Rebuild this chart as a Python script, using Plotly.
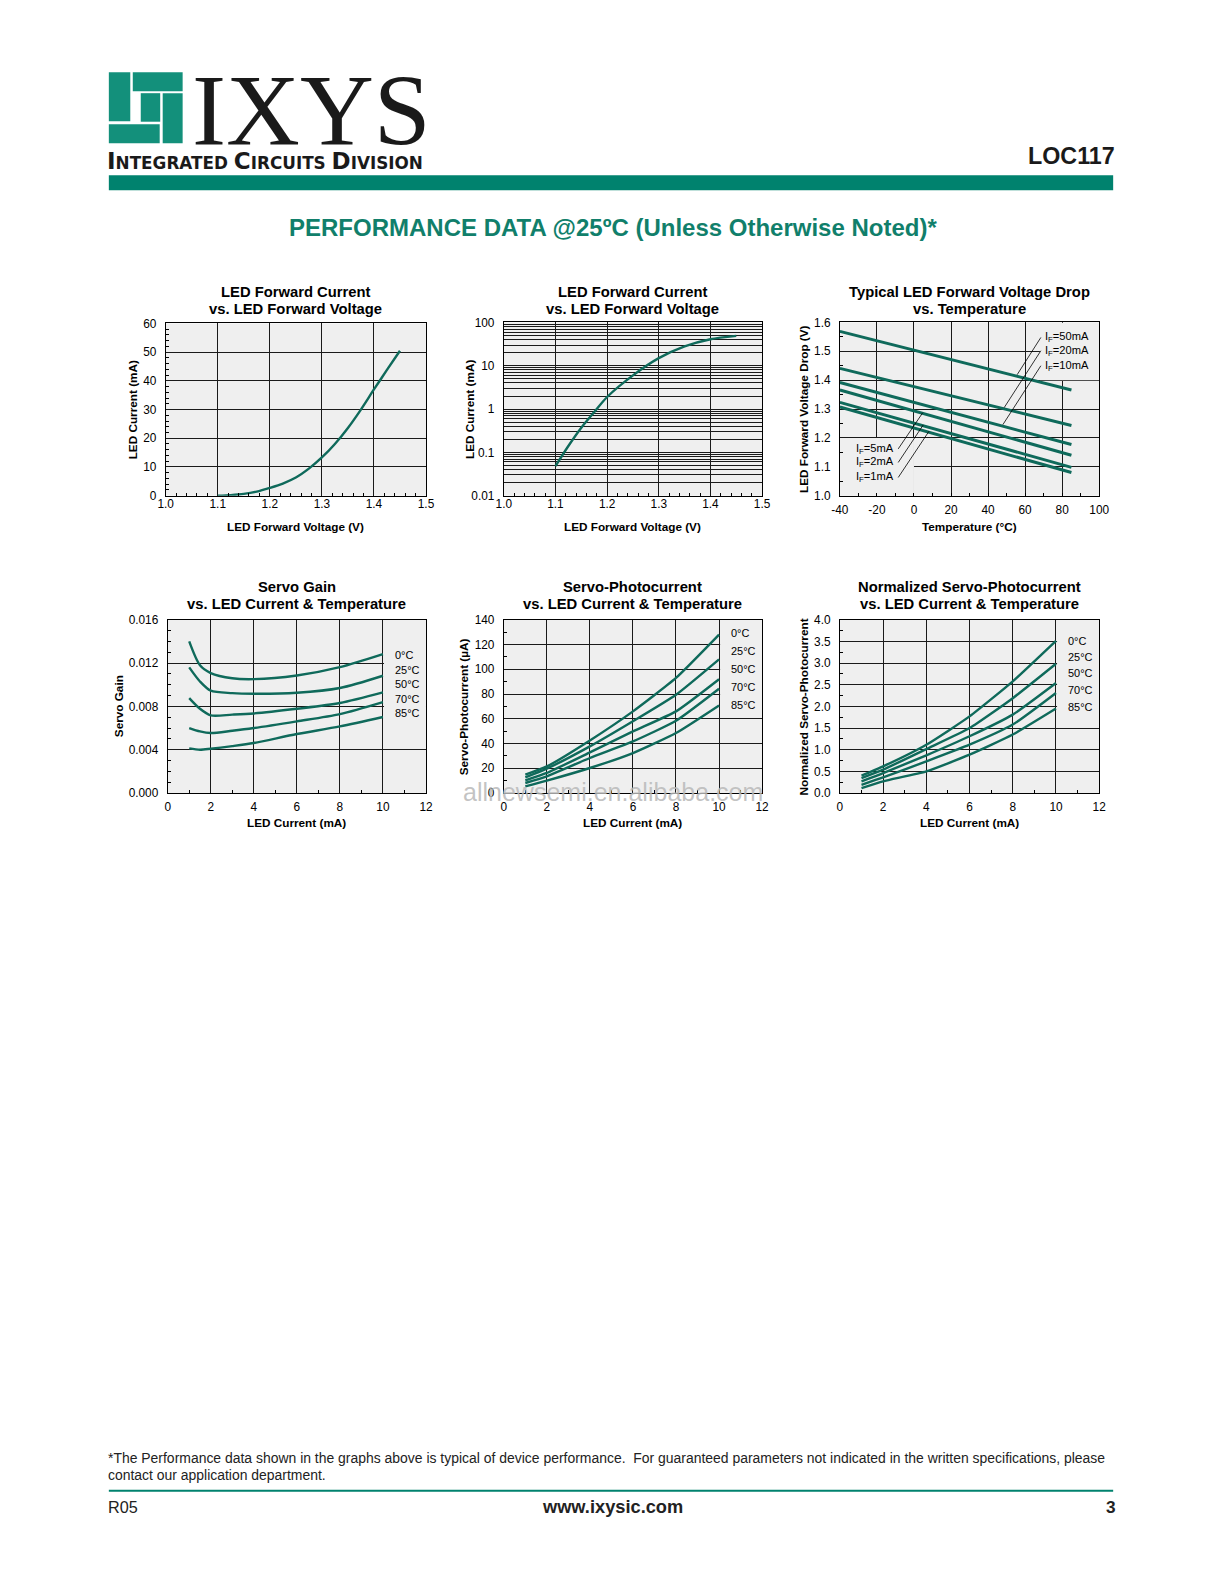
import plotly.graph_objects as go

# Figure size; the captured page maps figure pixels to page pixels as
# page = K * (fig + 8), so positions below are given in page pixels and converted.
W, H = 1224, 1584
OFF = 8
KX = 1224 / 1240
KY = 1584 / 1600

# ---------------- data ----------------
vf_lin = [1.100, 1.125, 1.150, 1.175, 1.200, 1.225, 1.250, 1.275, 1.300, 1.325, 1.350, 1.375, 1.400, 1.425, 1.450]
if_lin = [0.0, 0.2, 0.6, 1.4, 2.7, 4.2, 6.3, 9.4, 13.3, 18.0, 23.6, 30.0, 37.0, 43.8, 50.5]

vf_log = [1.10, 1.125, 1.15, 1.175, 1.20, 1.25, 1.30, 1.35, 1.40, 1.45]
if_log = [0.048, 0.14, 0.37, 0.85, 1.9, 6.0, 15.0, 28.0, 41.0, 49.0]

temp_c = [-40, 85]
temp_ticks = [-40, -20, 0, 20, 40, 60, 80, 100]
temp_tick_text = ["-40", "-20", "0", "20", "40", "60", "80", "100"]
vd_labels = ["50mA", "20mA", "10mA", "5mA", "2mA", "1mA"]
vd_50 = [1.569, 1.366]
vd_20 = [1.441, 1.243]
vd_10 = [1.392, 1.177]
vd_5 = [1.366, 1.140]
vd_2 = [1.323, 1.098]
vd_1 = [1.307, 1.080]

temp_labels = ["0°C", "25°C", "50°C", "70°C", "85°C"]

gain_x = [1, 1.5, 2, 3, 4, 6, 8, 10]
gain_0 = [0.0140, 0.0118, 0.01108, 0.0106, 0.01052, 0.01086, 0.01163, 0.01283]
gain_25 = [0.0116, 0.0103, 0.00945, 0.00923, 0.00917, 0.00926, 0.0097, 0.01083]
gain_50 = [0.00877, 0.00778, 0.00717, 0.00724, 0.00735, 0.00778, 0.00831, 0.00929]
gain_70 = [0.0060, 0.00569, 0.00554, 0.00575, 0.0060, 0.00662, 0.00729, 0.0084]
gain_85 = [0.00412, 0.0040, 0.00409, 0.00433, 0.00462, 0.00545, 0.00615, 0.00702]

pc_x = [1, 2, 4, 6, 8, 10]
pc_0 = [14.8, 21.5, 42.5, 66, 93, 128]
pc_25 = [12.7, 19.7, 37.7, 58, 79.4, 108]
pc_50 = [10.2, 16.2, 32.8, 49.8, 66, 92]
pc_70 = [8.1, 13.5, 28.3, 41.7, 58.4, 84.3]
pc_85 = [5.4, 10, 20.2, 32.3, 48.5, 70.8]

npc_x = [1, 2, 4, 6, 8, 10]
npc_0 = [0.40, 0.615, 1.115, 1.77, 2.58, 3.515]
npc_25 = [0.346, 0.54, 1.015, 1.5, 2.19, 2.985]
npc_50 = [0.27, 0.46, 0.87, 1.31, 1.81, 2.54]
npc_70 = [0.19, 0.36, 0.73, 1.115, 1.58, 2.31]
npc_85 = [0.115, 0.27, 0.5, 0.885, 1.35, 1.95]

# ---------------- styles ----------------
CURVE = "#0f6a5b"
TEAL = "#00826e"
LOGO = "#13907b"
BG = "#efefef"
FONT = "Liberation Sans, Arial, Helvetica, sans-serif"
WIDE = "DejaVu Sans, Verdana, sans-serif"


def fx(p):
    return (p / KX - OFF) / W


def fy(p):
    return 1 - (p / KY - OFF) / H


def fs(p):
    return round(p / KX, 2)


fig = go.Figure()

# plot boxes in page pixels: (left, right, top, bottom)
boxes = {
    1: (165, 426, 324, 496),
    2: (504, 763, 323, 496),
    3: (841, 1101, 323, 496),
    4: (167, 426, 620, 793),
    5: (504, 763, 620, 793),
    6: (841, 1101, 620, 793),
}


def axname(i, a):
    return f"{a}axis" if i == 1 else f"{a}axis{i}"


def ref(i, a):
    return a if i == 1 else f"{a}{i}"


def add_line(i, x, y, width=2.4, shape="spline", smoothing=1.0):
    fig.add_trace(go.Scatter(
        x=x, y=y, mode="lines", xaxis=ref(i, "x"), yaxis=ref(i, "y"),
        line=dict(color=CURVE, width=width, shape=shape,
                  smoothing=smoothing if shape == "spline" else None),
        showlegend=False, hoverinfo="skip"))


add_line(1, vf_lin, if_lin, smoothing=0.8)
add_line(2, vf_log, if_log, smoothing=0.8)
for s in [vd_50, vd_20, vd_10, vd_5, vd_2, vd_1]:
    add_line(3, temp_c, s, width=3, shape="linear")
for s in [gain_0, gain_25, gain_50, gain_70, gain_85]:
    add_line(4, gain_x, s, shape="spline", smoothing=0.8)
for s in [pc_0, pc_25, pc_50, pc_70, pc_85]:
    add_line(5, pc_x, s, shape="spline", smoothing=0.5)
for s in [npc_0, npc_25, npc_50, npc_70, npc_85]:
    add_line(6, npc_x, s, shape="spline", smoothing=0.5)

layout = dict(
    width=W, height=H, margin=dict(l=0, r=0, t=0, b=0),
    paper_bgcolor="white", plot_bgcolor=BG, showlegend=False,
    font=dict(family=FONT, size=fs(11), color="black"),
)

axis_common = dict(
    showline=True, linecolor="black", linewidth=1, mirror=True,
    showgrid=True, gridcolor="#1a1a1a", gridwidth=1, zeroline=False,
    ticks="", tickfont=dict(family=FONT, size=fs(11.7), color="black"),
    fixedrange=True,
)


def mnr(dt, t0):
    return dict(dtick=dt, tick0=t0, ticks="inside", ticklen=3, tickcolor="black", showgrid=False)


specs = {
    1: dict(x=dict(range=[1.0, 1.5], dtick=0.1, tick0=1.0, tickformat=".1f", minor=mnr(0.02, 1.0)),
            y=dict(range=[0, 60], dtick=10, tick0=0, minor=mnr(2, 0))),
    2: dict(x=dict(range=[1.0, 1.5], dtick=0.1, tick0=1.0, tickformat=".1f", minor=mnr(0.02, 1.0)),
            y=dict(type="log", range=[-2, 2], tickvals=[0.01, 0.1, 1, 10, 100],
                   ticktext=["0.01", "0.1", "1", "10", "100"],
                   minor=dict(dtick="D1", showgrid=True, gridcolor="#1a1a1a", gridwidth=1))),
    3: dict(x=dict(range=[-40, 100], tickvals=temp_ticks, ticktext=temp_tick_text, minor=mnr(10, -40)),
            y=dict(range=[1.0, 1.6], dtick=0.1, tick0=1.0, tickformat=".1f", minor=mnr(0.05, 1.0))),
    4: dict(x=dict(range=[0, 12], dtick=2, tick0=0, minor=mnr(1, 0)),
            y=dict(range=[0, 0.016], dtick=0.004, tick0=0, tickformat=".3f", minor=mnr(0.001, 0))),
    5: dict(x=dict(range=[0, 12], dtick=2, tick0=0, minor=mnr(1, 0)),
            y=dict(range=[0, 140], dtick=20, tick0=0, minor=mnr(10, 0))),
    6: dict(x=dict(range=[0, 12], dtick=2, tick0=0, minor=mnr(1, 0)),
            y=dict(range=[0, 4.0], dtick=0.5, tick0=0, tickformat=".1f", minor=mnr(0.25, 0))),
}

xstand = {1: -3, 2: -3, 3: 3, 4: 3, 5: 3, 6: 3}

for i, (l, r, t, b) in boxes.items():
    xa = dict(axis_common)
    xa.update(specs[i]["x"])
    xa["domain"] = [fx(l), fx(r)]
    xa["anchor"] = ref(i, "y")
    xa["ticklabelstandoff"] = xstand[i]
    ya = dict(axis_common)
    ya.update(specs[i]["y"])
    ya["domain"] = [fy(b), fy(t)]
    ya["anchor"] = ref(i, "x")
    ya["ticklabelstandoff"] = 6
    layout[axname(i, "x")] = xa
    layout[axname(i, "y")] = ya

ann = []
shapes = []


def text(x, y, s, size=11, bold=False, color="black", xanchor="center", yanchor="middle",
         family=FONT, textangle=0, xref="paper", yref="paper", align="center"):
    ann.append(dict(x=x, y=y, xref=xref, yref=yref, text=f"<b>{s}</b>" if bold else s,
                    showarrow=False, xanchor=xanchor, yanchor=yanchor, textangle=textangle,
                    font=dict(family=family, size=fs(size), color=color), align=align))


titles = {
    1: ("LED Forward Current", "vs. LED Forward Voltage"),
    2: ("LED Forward Current", "vs. LED Forward Voltage"),
    3: ("Typical LED Forward Voltage Drop", "vs. Temperature"),
    4: ("Servo Gain", "vs. LED Current & Temperature"),
    5: ("Servo-Photocurrent", "vs. LED Current & Temperature"),
    6: ("Normalized Servo-Photocurrent", "vs. LED Current & Temperature"),
}
xtitles = {1: "LED Forward Voltage (V)", 2: "LED Forward Voltage (V)", 3: "Temperature (°C)",
           4: "LED Current (mA)", 5: "LED Current (mA)", 6: "LED Current (mA)"}
ytitles = {1: "LED Current (mA)", 2: "LED Current (mA)", 3: "LED Forward Voltage Drop (V)",
           4: "Servo Gain", 5: "Servo-Photocurrent (µA)", 6: "Normalized Servo-Photocurrent"}
ytitle_x = {1: 132, 2: 469, 3: 804, 4: 118, 5: 464, 6: 804}

for i, (l, r, t, b) in boxes.items():
    cx = (l + r) / 2
    row2 = i >= 4
    y1, y2 = (587.5, 604.5) if row2 else (292.5, 310)
    text(fx(cx), fy(y1), titles[i][0], size=14.6, bold=True)
    text(fx(cx), fy(y2), titles[i][1], size=14.6, bold=True)
    text(fx(cx), fy(822 if row2 else 526.5), xtitles[i], size=11.6, bold=True)
    text(fx(ytitle_x[i]), fy((t + b) / 2), ytitles[i], size=11.6, bold=True, textangle=-90)


def bgrect(i, x0, x1, y0, y1):
    shapes.append(dict(type="rect", xref=ref(i, "x"), yref=ref(i, "y"), x0=x0, x1=x1, y0=y0, y1=y1,
                       fillcolor=BG, line=dict(width=0), layer="between"))


# label backgrounds (grid hidden behind labels)
bgrect(3, -40, 0, 1.0, 1.2)
bgrect(3, 68, 100, 1.4, 1.6)
bgrect(4, 10.05, 12, 0.0066, 0.016)
bgrect(5, 10.05, 12, 64, 140)
bgrect(6, 10.05, 12, 1.8, 4.0)

# chart 3 labels and leader lines
upper = [("50mA", 1.548, (68.5, 1.548), (55.7, 1.419)),
         ("20mA", 1.502, (68.5, 1.502), (48.7, 1.305)),
         ("10mA", 1.450, (68.5, 1.450), (48.0, 1.246))]
lower = [("5mA", 1.162, (-8.5, 1.162), (4.7, 1.287)),
         ("2mA", 1.115, (-8.5, 1.115), (5.0, 1.245)),
         ("1mA", 1.063, (-8.5, 1.063), (8.1, 1.223))]
for lab, yy, p0, p1 in upper:
    text(69.5, yy, "I<sub>F</sub>=" + lab, size=11, xanchor="left", xref="x3", yref="y3")
    shapes.append(dict(type="line", xref="x3", yref="y3", x0=p0[0], y0=p0[1], x1=p1[0], y1=p1[1],
                       line=dict(color="black", width=0.8), layer="above"))
for lab, yy, p0, p1 in lower:
    text(-9.5, yy, "I<sub>F</sub>=" + lab, size=11, xanchor="right", xref="x3", yref="y3")
    shapes.append(dict(type="line", xref="x3", yref="y3", x0=p0[0], y0=p0[1], x1=p1[0], y1=p1[1],
                       line=dict(color="black", width=0.8), layer="above"))

# temperature labels
gain_lab_y = [0.01277, 0.01135, 0.01006, 0.0087, 0.00742]
pc_lab_y = [129, 115, 100.4, 86, 71.3]
npc_lab_y = [3.515, 3.14, 2.77, 2.385, 1.985]
for lab, yy in zip(temp_labels, gain_lab_y):
    text(10.45, yy, lab, size=10.8, xanchor="left", xref="x4", yref="y4")
for lab, yy in zip(temp_labels, pc_lab_y):
    text(10.45, yy, lab, size=10.8, xanchor="left", xref="x5", yref="y5")
for lab, yy in zip(temp_labels, npc_lab_y):
    text(10.45, yy, lab, size=10.8, xanchor="left", xref="x6", yref="y6")

# watermark
text(fx(613.5), fy(792), "allnewsemi.en.alibaba.com", size=24.7, color="rgba(185,185,185,0.85)")


# ---------------- header ----------------
def prect(x0, y0, x1, y1, color):
    shapes.append(dict(type="rect", xref="paper", yref="paper", x0=fx(x0), x1=fx(x1),
                       y0=fy(y1), y1=fy(y0), fillcolor=color, line=dict(width=0), layer="above"))


prect(108, 73, 129.5, 122, LOGO)
prect(132, 73, 182, 92, LOGO)
prect(162, 94, 182, 144, LOGO)
prect(108, 125, 159, 144, LOGO)
prect(140, 94, 159.5, 122.5, LOGO)

text(fx(189), fy(111.5), "IXYS", size=101, color="#1a1a1a", xanchor="left",
     family="Liberation Serif, Times New Roman, serif")
big = fs(22.7)
text(fx(104.6), fy(162),
     f"<b><span style='font-size:{big}px'>I</span>NTEGRATED <span style='font-size:{big}px'>C</span>IRCUITS "
     f"<span style='font-size:{big}px'>D</span>IVISION</b>", size=16.6, xanchor="left", color="#1a1a1a",
     family=WIDE)
text(fx(1119), fy(157), "LOC117", size=23, bold=True, xanchor="right", color="#1a1a1a")
prect(108, 176, 1115, 191, TEAL)

text(fx(613.5), fy(228), "PERFORMANCE DATA @25ºC (Unless Otherwise Noted)*", size=23.7, bold=True,
     color="#117f6b")

# ---------------- footer ----------------
text(fx(105.5), fy(1457),
     "*The Performance data shown in the graphs above is typical of device performance.  For guaranteed "
     "parameters not indicated in the written specifications, please",
     size=13.77, xanchor="left", color="#222222")
text(fx(105.5), fy(1474), "contact our application department.", size=13.77, xanchor="left",
     color="#222222")
shapes.append(dict(type="line", xref="paper", yref="paper", x0=fx(108), x1=fx(1115),
                   y0=fy(1490), y1=fy(1490), line=dict(color=TEAL, width=2)))
text(fx(105.5), fy(1506), "R05", size=16, xanchor="left", color="#222222")
text(fx(613), fy(1506), "www.ixysic.com", size=18, bold=True, color="#222222")
text(fx(1120), fy(1506), "3", size=17, bold=True, xanchor="right", color="#222222")

layout["annotations"] = ann
layout["shapes"] = shapes
fig.update_layout(**layout)
fig.write_html("out.html")
